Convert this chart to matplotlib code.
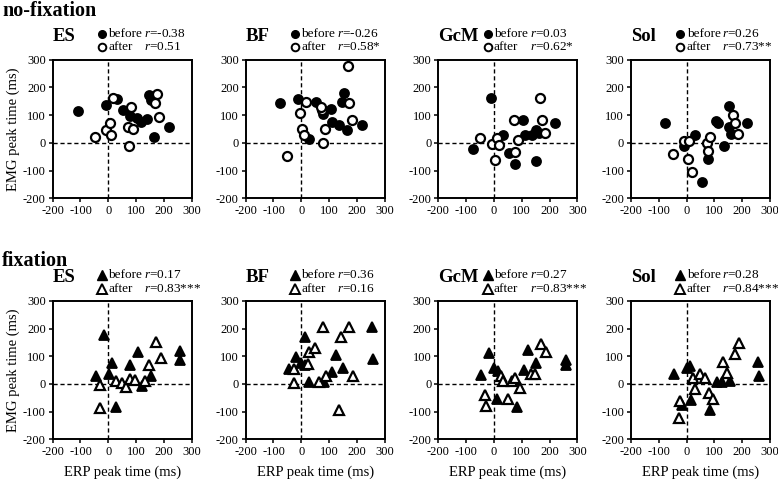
import matplotlib
matplotlib.use("Agg")
import matplotlib.pyplot as plt

plt.rcParams['font.family'] = ['Liberation Serif', 'DejaVu Serif']
plt.rcParams['mathtext.fontset'] = 'custom'
plt.rcParams['mathtext.it'] = 'Liberation Serif:italic'
plt.rcParams['mathtext.rm'] = 'Liberation Serif'
plt.rcParams['axes.unicode_minus'] = False

muscles = ["ES", "BF", "GcM", "Sol"]
ticks = [-200, -100, 0, 100, 200, 300]

# r values shown in the legends
nofix_r_before = ["-0.38", "-0.26", "0.03", "0.26"]
nofix_r_after = ["0.51", "0.58*", "0.62*", "0.73**"]
fix_r_before = ["0.17", "0.36", "0.27", "0.28"]
fix_r_after = ["0.83***", "0.16", "0.83***", "0.84***"]

# ---- no-fixation (ERP peak time x, EMG peak time y) ----
es_nofix_before_x = [-110, -10, 30, 54, 78, 104, 116, 138, 147, 153, 165, 219]
es_nofix_before_y = [116, 137, 158, 119, 98, 89, 77, 86, 173, 153, 20, 59]
es_nofix_after_x = [-48, -8, 6, 10, 18, 80, 72, 88, 76, 174, 169, 182]
es_nofix_after_y = [20, 45, 71, 29, 161, 128, 59, 49, -13, 175, 143, 92]

bf_nofix_before_x = [-78, -12, 54, 78, 108, 111, 137, 153, 147, 165, 217, 29]
bf_nofix_before_y = [143, 158, 149, 105, 124, 76, 64, 180, 149, 45, 63, 13]
bf_nofix_after_x = [-51, -6, 4, 10, 17, 75, 71, 84, 77, 169, 173, 183]
bf_nofix_after_y = [-49, 107, 49, 28, 148, 119, 129, 49, 1, 278, 143, 83]

gcm_nofix_before_x = [-77, -10, 31, 53, 77, 104, 113, 137, 152, 152, 161, 219]
gcm_nofix_before_y = [-23, 163, 30, -37, -76, 81, 30, 30, 47, -64, 37, 71]
gcm_nofix_after_x = [-49, -7, 10, 19, 5, 71, 86, 77, 167, 173, 183]
gcm_nofix_after_y = [17, -4, 17, -8, -61, 81, 11, -33, 161, 83, 37]

sol_nofix_before_x = [-78, -10, 29, 57, 78, 105, 114, 135, 151, 151, 161, 219]
sol_nofix_before_y = [71, -10, 28, -141, -57, 80, 71, -11, 134, 59, 31, 73]
sol_nofix_after_x = [-49, -8, 10, 4, 18, 72, 84, 77, 167, 173, 184]
sol_nofix_after_y = [-40, 8, 8, -57, -106, -1, 20, -28, 99, 71, 33]

# ---- fixation ----
es_fix_before_x = [-14, -44, 1, 14, 26, 78, 108, 122, 155, 258, 258]
es_fix_before_y = [177, 27, 35, 75, -82, 69, 114, -6, 27, 119, 87]
es_fix_after_x = [-29, -29, 28, 48, 64, 78, 96, 133, 146, 171, 188]
es_fix_after_y = [-4, -88, 11, 5, -10, 17, 13, 11, 69, 151, 93]

bf_fix_before_x = [-46, -18, 12, 14, 0, 27, 81, 111, 123, 151, 255, 259]
bf_fix_before_y = [53, 99, 169, 69, 75, 8, 8, 42, 105, 59, 207, 90]
bf_fix_after_x = [-28, -25, 23, 29, 51, 63, 90, 78, 143, 173, 187, 135]
bf_fix_after_y = [5, 54, 71, 117, 129, 6, 27, 207, 169, 207, 30, -94]

gcm_fix_before_x = [-46, -17, 0, 13, 12, 83, 107, 122, 152, 258, 260]
gcm_fix_before_y = [33, 113, 57, 45, -55, -82, 51, 123, 75, 87, 69]
gcm_fix_after_x = [-31, -30, 27, 31, 51, 65, 77, 92, 135, 146, 171, 189]
gcm_fix_after_y = [-40, -80, 29, 11, -55, 11, 20, -16, 35, 35, 143, 117]

sol_fix_before_x = [-46, 0, 12, 17, -16, 83, 111, 127, 155, 257, 260]
sol_fix_before_y = [36, 57, 66, -58, -76, -94, 6, 6, 11, 78, 29]
sol_fix_after_x = [-25, -28, 24, 29, 48, 65, 81, 94, 131, 147, 173, 189]
sol_fix_after_y = [-61, -124, 23, -18, 35, 20, -34, -55, 78, 41, 108, 149]

nofix_data = [
    (es_nofix_before_x, es_nofix_before_y, es_nofix_after_x, es_nofix_after_y),
    (bf_nofix_before_x, bf_nofix_before_y, bf_nofix_after_x, bf_nofix_after_y),
    (gcm_nofix_before_x, gcm_nofix_before_y, gcm_nofix_after_x, gcm_nofix_after_y),
    (sol_nofix_before_x, sol_nofix_before_y, sol_nofix_after_x, sol_nofix_after_y),
]
fix_data = [
    (es_fix_before_x, es_fix_before_y, es_fix_after_x, es_fix_after_y),
    (bf_fix_before_x, bf_fix_before_y, bf_fix_after_x, bf_fix_after_y),
    (gcm_fix_before_x, gcm_fix_before_y, gcm_fix_after_x, gcm_fix_after_y),
    (sol_fix_before_x, sol_fix_before_y, sol_fix_after_x, sol_fix_after_y),
]

fig = plt.figure(figsize=(7.78, 4.86), dpi=100)

lefts = [0.0677, 0.3158, 0.5634, 0.811]
bottoms = [0.592, 0.096]
w, h = 0.1787, 0.285

rows = [
    (nofix_data, nofix_r_before, nofix_r_after, "o", 6.5),
    (fix_data, fix_r_before, fix_r_after, "^", 7.8),
]

for row, (data, rb, ra, mk, ms) in enumerate(rows):
    for col, name in enumerate(muscles):
        ax = fig.add_axes([lefts[col], bottoms[row], w, h])
        bx, by, axx, ayy = data[col]
        ax.axhline(0, color="black", lw=1, ls=(0, (3, 2)), zorder=1)
        ax.axvline(0, color="black", lw=1, ls=(0, (3, 2)), zorder=1)
        ax.plot(bx, by, ls="none", marker=mk, ms=ms, mfc="black",
                mec="black", mew=1.3, zorder=3)
        ax.plot(axx, ayy, ls="none", marker=mk, ms=ms, mfc="white",
                mec="black", mew=1.6, zorder=3)
        ax.set_xlim(-200, 300)
        ax.set_ylim(-200, 300)
        ax.set_xticks(ticks)
        ax.set_yticks(ticks)
        ax.tick_params(direction="out", length=3, width=1.1, labelsize=9, pad=2)
        for s in ax.spines.values():
            s.set_linewidth(1.4)

        # panel title and legend
        ax.text(0.0, 1.168, name, transform=ax.transAxes, fontsize=13.5,
                fontweight="bold", ha="left", va="center")
        ax.plot([0.355], [1.188], transform=ax.transAxes, clip_on=False,
                marker=mk, ms=ms - 1.0, mfc="black", mec="black", ls="none")
        ax.plot([0.355], [1.089], transform=ax.transAxes, clip_on=False,
                marker=mk, ms=ms - 1.0, mfc="white", mec="black", mew=1.4,
                ls="none")
        ax.text(0.40, 1.188, "before", transform=ax.transAxes, fontsize=9.5,
                ha="left", va="center")
        ax.text(0.40, 1.089, "after", transform=ax.transAxes, fontsize=9.5,
                ha="left", va="center")
        ax.text(0.656, 1.188, "$r$=" + rb[col], transform=ax.transAxes,
                fontsize=9.5, ha="left", va="center")
        ax.text(0.656, 1.089, "$r$=" + ra[col], transform=ax.transAxes,
                fontsize=9.5, ha="left", va="center")

        if row == 1:
            ax.set_xlabel("ERP peak time (ms)", fontsize=10.5, labelpad=5)

# row labels and y labels
fig.text(0.003, 0.977, "no-fixation", fontsize=14.5, fontweight="bold",
         ha="left", va="center")
fig.text(0.003, 0.462, "fixation", fontsize=14.5, fontweight="bold",
         ha="left", va="center")
for b in bottoms:
    fig.text(0.017, b + h / 2, "EMG peak time (ms)", fontsize=10.5,
             rotation=90, ha="center", va="center")

fig.savefig("out.png", dpi=100)
